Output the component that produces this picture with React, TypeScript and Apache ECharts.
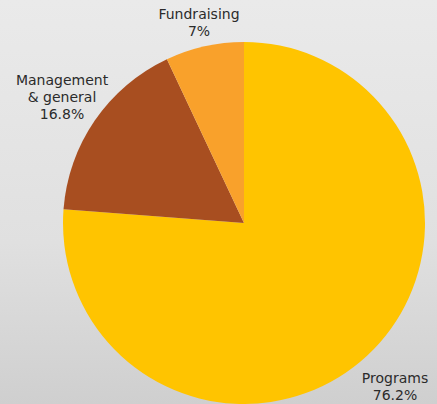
import React, { useEffect, useRef } from "react";
import * as echarts from "echarts";

const categories = ["Programs", "Management\n& general", "Fundraising"];
const values = [76.2, 16.8, 7];
const colors = ["#FFC400", "#A84E20", "#F9A12B"];
const labelPos = [
  [395, 386],
  [62, 97],
  [199, 22],
];

export default function App() {
  const ref = useRef<HTMLDivElement>(null);
  useEffect(() => {
    document.body.style.margin = "0";
    const chart = echarts.init(ref.current!, null, { renderer: "svg" });
    chart.setOption({
      animation: false,
      backgroundColor: {
        type: "linear",
        x: 0,
        y: 0,
        x2: 0,
        y2: 1,
        colorStops: [
          { offset: 0, color: "#eaeaea" },
          { offset: 0.6, color: "#e0e0e0" },
          { offset: 1, color: "#cfcfcf" },
        ],
      },
      series: [
        {
          type: "pie",
          center: [244, 223],
          radius: 181,
          startAngle: 90,
          clockwise: true,
          data: categories.map((c, i) => ({
            name: c,
            value: values[i],
            itemStyle: { color: colors[i] },
          })),
          label: {
            show: true,
            position: "outside",
            formatter: (p: any) => `${p.name}\n${p.value}%`,
            fontFamily: "DejaVu Sans",
            fontSize: 14,
            lineHeight: 17,
            color: "#2b2b2b",
            align: "center",
            overflow: "none",
            width: 200,
          },
          labelLine: { show: false },
          labelLayout: (p: any) => ({
            x: labelPos[p.dataIndex][0],
            y: labelPos[p.dataIndex][1],
            align: "center",
            verticalAlign: "middle",
          }),
          emphasis: { disabled: true },
        },
      ],
    });
    return () => chart.dispose();
  }, []);
  return <div ref={ref} style={{ width: 437, height: 404 }} />;
}
